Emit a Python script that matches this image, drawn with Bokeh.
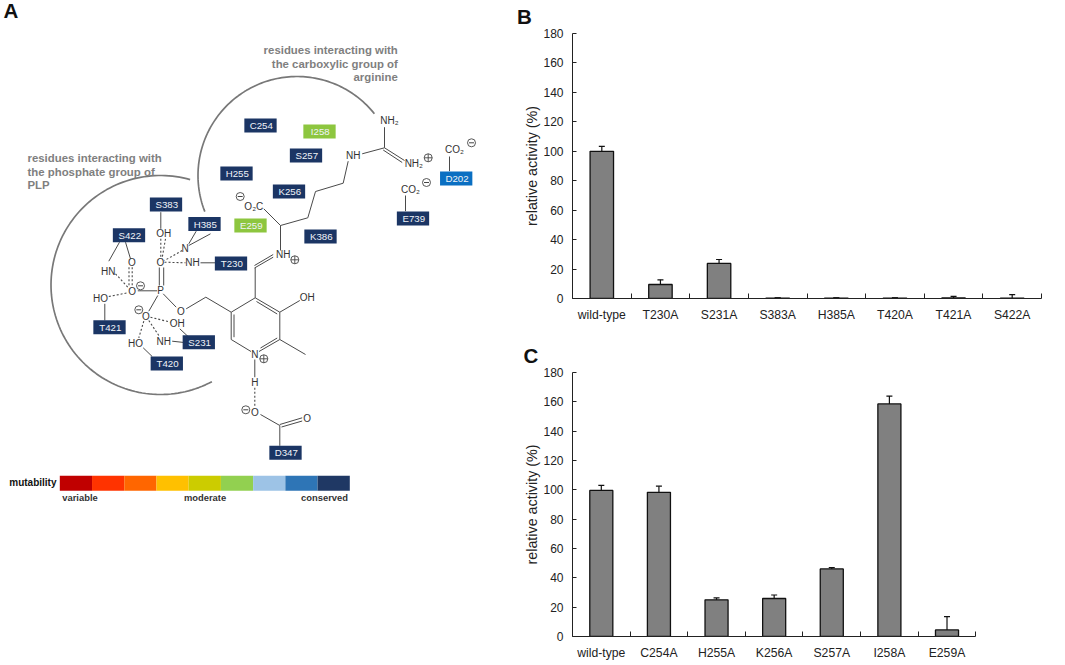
import numpy as np
from bokeh.plotting import figure
from bokeh.layouts import row, column
from bokeh.models import (ColumnDataSource, FixedTicker, LinearAxis, Range1d,
                          TeeHead, Title, Whisker)
from bokeh.core.properties import value
from bokeh.embed import file_html
from bokeh.resources import INLINE

FONT = "Liberation Sans"

# ---------- bar chart data ----------
b_labels = ["wild-type", "T230A", "S231A", "S383A", "H385A", "T420A", "T421A", "S422A"]
b_values = [100, 9.5, 23.8, 0.3, 0.3, 0.3, 0.4, 0.3]
b_errors = [3.3, 3.2, 2.7, 0.1, 0.1, 0.1, 1.0, 2.4]

c_labels = ["wild-type", "C254A", "H255A", "K256A", "S257A", "I258A", "E259A"]
c_values = [99.6, 98.3, 25, 25.9, 46.1, 158.6, 4.5]
c_errors = [3.4, 4.2, 1.3, 2.4, 0.8, 5.3, 9.1]

y_ticks = [0, 20, 40, 60, 80, 100, 120, 140, 160, 180]

# ---------- scheme of panel A (schematic, in picture pixels) ----------
residues = ["C254", "I258", "S257", "H255", "K256", "E259", "K386", "T230", "E739", "D202",
            "H385", "S383", "S422", "T421", "S231", "T420", "D347"]
residue_x = [260, 319, 305.5, 236, 288.5, 250, 320, 230.5, 412.5, 455.7,
             204, 165.5, 128.5, 109, 198.3, 166.3, 285]
residue_y = [125, 131, 155, 173, 191, 225, 236, 263, 218, 178,
             223.5, 204, 234.7, 326.7, 341.7, 363, 452.3]
residue_col = ["#1b3564", "#8dc63f", "#1b3564", "#1b3564", "#1b3564", "#8dc63f", "#1b3564",
               "#1b3564", "#1b3564", "#0a6fc2", "#1b3564", "#1b3564", "#1b3564", "#1b3564",
               "#1b3564", "#1b3564", "#1b3564"]

bonds = [
    (384, 126.7, 384, 147.3), (361.7, 153.3, 384, 147.3), (384, 147.3, 404, 160),
    (382.7, 149.5, 401.7, 162), (449, 156, 449, 170.7), (405, 195, 405, 210.7),
    (347.7, 160.7, 342.7, 182.7), (342.7, 182.7, 315, 191), (315, 191, 307.3, 217.3),
    (307.3, 217.3, 280, 225), (280, 225, 263.3, 208.3), (280, 225, 280, 250),
    (272.7, 254, 254, 265), (272.7, 256.7, 254, 267.5), (254.7, 267.3, 254.7, 297.3),
    (254.7, 297.3, 279.3, 311.7), (279.3, 311.7, 279.3, 339), (279.3, 339, 258.5, 351),
    (250.5, 351, 230.7, 339), (230.7, 339, 230.7, 311.7), (230.7, 311.7, 254.7, 297.3),
    (256, 301, 276.7, 313.5), (260, 347.5, 276.7, 337.5), (233.5, 314, 233.5, 336.7),
    (279.3, 311.7, 299.3, 300), (279.3, 339, 305, 354), (230.7, 311.7, 205.3, 296.7),
    (205.3, 296.7, 185.7, 308.3), (175.7, 306.7, 162.7, 293.3),
    (158.8, 285, 158.8, 267), (163.2, 285, 163.2, 267),
    (137.3, 290.3, 156.7, 290.3), (157.3, 295, 148.3, 310.7),
    (160.3, 211.7, 160.3, 228.3), (188.3, 243.3, 195.7, 230.7), (188.3, 245, 210, 233.3),
    (200, 262.3, 215, 262.3), (119, 241.7, 108.3, 260.7), (125, 241.7, 130, 258.3),
    (104.3, 303.3, 104.3, 320), (179.3, 328.3, 190, 338.3), (171.7, 340.7, 190, 342.7),
    (142.7, 347.3, 151.7, 356), (254.3, 359, 254.3, 376.7), (260, 414, 279.3, 425),
    (279.3, 424, 301.7, 417.3), (281, 426.5, 301.7, 420.5), (279.3, 425, 279.3, 445.3),
]
hbonds = [
    (160.3, 238.3, 160.3, 258.3), (165, 238.3, 161.5, 258.3), (181.7, 250, 164, 260),
    (164, 261.7, 185, 262.3), (131.7, 266.7, 131.7, 286.7), (128.5, 266.7, 128.5, 286.7),
    (115, 273.3, 128.3, 287.7), (108.3, 296, 127.3, 292.3), (150, 316.7, 170, 321.7),
    (148.3, 320, 158.3, 335), (143.3, 320.7, 138.3, 337.3), (254.3, 387.3, 254.3, 406.7),
]
atoms = ["NH₂", "NH", "NH₂", "CO₂", "CO₂", "O₂C", "NH", "OH", "O", "P", "O", "O", "O", "OH",
         "N", "NH", "O", "HN", "HO", "OH", "NH", "HO", "N", "H", "O", "O"]
atom_x = [389, 352.7, 413.3, 454, 410, 253.3, 282.7, 306.7, 180.3, 160, 160, 131.7, 145.3, 163.3,
          184.7, 192, 131.3, 107.7, 100, 176.7, 163.3, 135, 254.3, 254.3, 254.3, 306.7]
atom_y = [120, 155.3, 162.7, 149.3, 189.3, 205.7, 254, 296.7, 311, 290.3, 262.3, 291, 315.7, 233.3,
          248.3, 262.3, 262.3, 270.7, 298.3, 323.3, 340.7, 343.3, 354, 382.3, 411.7, 417.7]
plus_x = [427.7, 294.3, 263.3]
plus_y = [157.3, 259.3, 358.3]
minus_x = [471, 426, 239.7, 140, 138.3, 245.3]
minus_y = [142.3, 182, 196, 285.3, 309.3, 409.3]

arc_phosphate = (160, 284.5, 109.5, 62, 285.7)
arc_carboxyl = (296.5, 175, 99, 158.6, 321.4)

note_left = ["residues interacting with", "the phosphate group of", "PLP"]
note_left_y = [157.7, 171.3, 184.7]
note_right = ["residues interacting with", "the carboxylic group of", "arginine"]
note_right_y = [49, 63, 76.5]

scale_colors = ["#c00000", "#ff3300", "#ff6600", "#ffc000", "#cccc00", "#92d050",
                "#9dc3e6", "#2e75b6", "#1f3864"]
scale_words = ["variable", "moderate", "conserved"]
scale_words_x = [79.5, 204.5, 324]


# ---------- panel A ----------
def panel_a():
    p = figure(width=512, height=665, x_range=Range1d(0, 512), y_range=Range1d(665, 0),
               toolbar_location=None, output_backend="svg", min_border=0,
               outline_line_color=None, background_fill_color="white")
    p.axis.visible = False
    p.grid.visible = False

    for cx, cy, r, a0, a1 in (arc_phosphate, arc_carboxyl):
        t = np.radians(np.linspace(a0, a1, 120))
        p.line(cx + r * np.cos(t), cy + r * np.sin(t), line_color="#787878", line_width=1.7)

    x0, y0, x1, y1 = zip(*bonds)
    p.segment(x0, y0, x1, y1, line_color="#4a4a4a", line_width=1)
    x0, y0, x1, y1 = zip(*hbonds)
    p.segment(x0, y0, x1, y1, line_color="#4a4a4a", line_width=1.1, line_dash="2 2")

    p.rect(residue_x, residue_y, width=32.3, height=14, fill_color=residue_col, line_color=None)
    p.text([x + 0.8 for x in residue_x], residue_y, text=residues, text_color="#f0f3f8",
           text_font=value(FONT), text_font_size="9.7px", text_align="center",
           text_baseline="middle")

    p.text(atom_x, atom_y, text=atoms, text_color="#333333", text_font=value(FONT),
           text_font_size="10px", text_align="center", text_baseline="middle")

    p.scatter(plus_x, plus_y, marker="circle_cross", size=8, fill_color=None,
              line_color="#444444", line_width=0.9)
    p.scatter(minus_x, minus_y, marker="circle", size=8, fill_color=None,
              line_color="#444444", line_width=0.9)
    p.scatter(minus_x, minus_y, marker="dash", size=5, line_color="#444444", line_width=1)

    p.text([27] * 3, note_left_y, text=note_left, text_color="#7f7f7f", text_font=value(FONT),
           text_font_style="bold", text_font_size="11.4px", text_align="left",
           text_baseline="middle")
    p.text([397.3] * 3, note_right_y, text=note_right, text_color="#7f7f7f", text_font=value(FONT),
           text_font_style="bold", text_font_size="11.4px", text_align="right",
           text_baseline="middle")

    n = len(scale_colors)
    edges = np.linspace(59.3, 349.3, n + 1)
    p.quad(left=edges[:-1], right=edges[1:], top=475.3, bottom=490.3, fill_color=scale_colors,
           line_color=None)
    p.text([56], [481.7], text=["mutability"], text_color="#111111", text_font=value(FONT),
           text_font_style="bold", text_font_size="10px", text_align="right",
           text_baseline="middle")
    p.text(scale_words_x, [496.7] * 3, text=scale_words, text_color="#333333",
           text_font=value(FONT), text_font_style="bold", text_font_size="9.4px",
           text_align="center", text_baseline="middle")
    p.text([3], [10], text=["A"], text_color="#111111", text_font=value(FONT),
           text_font_style="bold", text_font_size="20.5px", text_align="left",
           text_baseline="middle")
    return p


# ---------- panels B and C ----------
def bar_panel(labels, values, errors, letter, offset, width, height, top, bottom, xmax, line_h):
    n = len(labels)
    xs = np.arange(n) + 0.5
    vals = np.array(values, dtype=float)
    errs = np.array(errors, dtype=float)
    p = figure(width=width, height=height, x_range=Range1d(0, xmax), y_range=Range1d(0, 180),
               toolbar_location=None, output_backend="svg", x_axis_type=None, y_axis_type=None,
               min_border_left=60, min_border_right=24, min_border_top=top,
               min_border_bottom=bottom, outline_line_color=None)
    p.grid.visible = False

    xax = LinearAxis(ticker=FixedTicker(ticks=list(xs), minor_ticks=list(range(n + 1))),
                     major_label_overrides={float(x): l for x, l in zip(xs, labels)},
                     bounds=(0, n))
    xax.major_tick_in = 0
    xax.major_tick_out = 0
    xax.minor_tick_in = 5
    xax.minor_tick_out = 0
    xax.minor_tick_line_color = "#222222"
    xax.axis_line_color = "#222222"
    xax.major_label_standoff = 9
    xax.major_label_text_font = FONT
    xax.major_label_text_font_size = "12.2px"
    xax.major_label_text_color = "#222222"
    p.add_layout(xax, "below")

    yax = LinearAxis(ticker=FixedTicker(ticks=y_ticks), axis_label="relative activity (%)")
    yax.major_tick_in = 4
    yax.major_tick_out = 0
    yax.minor_tick_line_color = None
    yax.major_tick_line_color = "#222222"
    yax.axis_line_color = "#222222"
    yax.major_label_standoff = 9
    yax.major_label_text_font = FONT
    yax.major_label_text_font_size = "12px"
    yax.major_label_text_color = "#222222"
    yax.axis_label_text_font = FONT
    yax.axis_label_text_font_size = "14.3px"
    yax.axis_label_text_font_style = "normal"
    yax.axis_label_text_color = "#222222"
    yax.axis_label_standoff = 0
    p.add_layout(yax, "left")

    src = ColumnDataSource(dict(x=xs, top=vals, up=vals + errs, low=np.maximum(vals - errs, 0)))
    p.vbar(x="x", top="top", bottom=0, width=0.4, source=src, fill_color="#808080",
           line_color="#111111", line_width=1.3)
    p.add_layout(Whisker(base="x", upper="up", lower="low", source=src,
                         line_color="#111111", line_width=1.2,
                         upper_head=TeeHead(size=6, line_color="#111111", line_width=1.2),
                         lower_head=TeeHead(size=6, line_color="#111111", line_width=1.2)))
    p.add_layout(Title(text=letter, align="left", offset=offset, text_font=FONT,
                       text_font_style="bold", text_font_size="20.5px", text_color="#111111",
                       standoff=8, vertical_align="top", text_line_height=line_h), "above")
    return p


fig_a = panel_a()
fig_b = bar_panel(b_labels, b_values, b_errors, "B", -55.5, 553, 330, 33, 32, 8.0, 0.55)
fig_c = bar_panel(c_labels, c_values, c_errors, "C", -49, 553, 335, 42, 29, 8.14, 0.85)

page = row(fig_a, column(fig_b, fig_c, spacing=0), spacing=0)
open("out.html", "w").write(file_html(page, INLINE))
